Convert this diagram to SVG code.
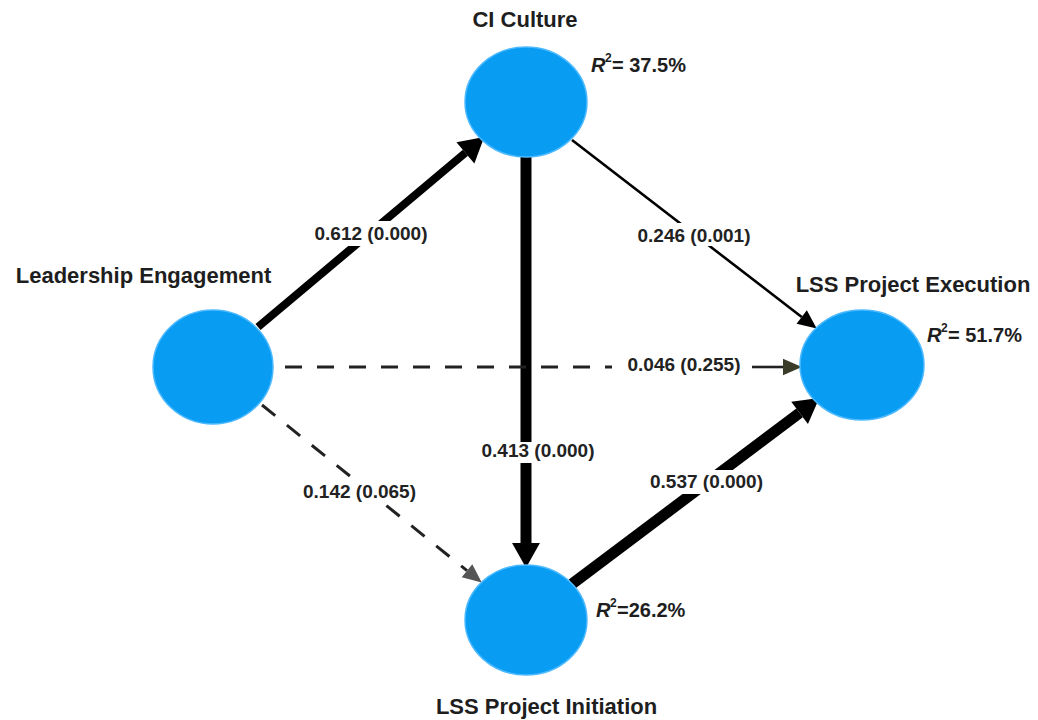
<svg xmlns="http://www.w3.org/2000/svg" width="1038" height="720" viewBox="0 0 1038 720">
  <style>
    .node { fill: #089CF3; stroke: #4DB9FF; stroke-width: 1.5; }
    .title { font-family: "Liberation Sans", Arial, sans-serif; font-weight: bold; font-size: 22px; fill: #1E1E1E; text-anchor: middle; }
    .r2 { font-family: "Liberation Sans", Arial, sans-serif; font-weight: bold; font-size: 20px; fill: #1E1E1E; }
    .r2 .it { font-style: italic; }
    .r2 .sup { font-size: 12px; }
    .coef { font-family: "Liberation Sans", Arial, sans-serif; font-weight: bold; font-size: 19px; fill: #222; text-anchor: middle; }
    .mask { fill: #FFFFFF; }
    .heavy { fill: none; stroke: #000; stroke-width: 11; }
    .medium { fill: none; stroke: #000; stroke-width: 8; }
    .thin { fill: none; stroke: #000; stroke-width: 2.6; }
    .dash { fill: none; stroke: #222; stroke-width: 3; stroke-dasharray: 17 15; }
    .solid-end { fill: none; stroke: #222; stroke-width: 2.6; }
  </style>
  <defs>
    <marker id="head-heavy" markerUnits="userSpaceOnUse" markerWidth="30" markerHeight="30" viewBox="0 -14 24 28" refX="0" refY="0" orient="auto" overflow="visible">
      <path d="M0,-13 L23,0 L0,13 Z" fill="#000"/>
    </marker>
    <marker id="head-thin" markerUnits="userSpaceOnUse" markerWidth="20" markerHeight="20" viewBox="0 -9 19 18" refX="0" refY="0" orient="auto" overflow="visible">
      <path d="M0,-8 L18,0 L0,8 Z" fill="#000"/>
    </marker>
    <marker id="head-olive" markerUnits="userSpaceOnUse" markerWidth="20" markerHeight="20" viewBox="0 -9 18 18" refX="0" refY="0" orient="auto" overflow="visible">
      <path d="M0,-7.5 L17,0 L0,7.5 Z" fill="#3B3B29"/>
    </marker>
    <marker id="head-gray" markerUnits="userSpaceOnUse" markerWidth="20" markerHeight="20" viewBox="0 -9 19 18" refX="0" refY="0" orient="auto" overflow="visible">
      <path d="M0,-8 L18,0 L0,8 Z" fill="#555"/>
    </marker>
  </defs>

  <rect width="1038" height="720" fill="#FFFFFF"/>

  <!-- paths between constructs -->
  <g id="connectors">
    <!-- Leadership Engagement -> CI Culture -->
    <path class="medium" d="M258,327 L465.4,152.8" marker-end="url(#head-heavy)"/>
    <!-- CI Culture -> LSS Project Execution -->
    <path class="thin" d="M572,140 L801.7,317" marker-end="url(#head-thin)"/>
    <!-- CI Culture -> LSS Project Initiation -->
    <path class="heavy" d="M526,157 L526,543" marker-end="url(#head-heavy)"/>
    <!-- Leadership Engagement -> LSS Project Execution (not significant) -->
    <path class="dash" d="M285,367 L612,367"/>
    <path class="solid-end" d="M752,367 L783,367" marker-end="url(#head-olive)"/>
    <!-- Leadership Engagement -> LSS Project Initiation (not significant) -->
    <path class="dash" d="M262,405 L467,570.7" marker-end="url(#head-gray)"/>
    <!-- LSS Project Initiation -> LSS Project Execution -->
    <path class="heavy" d="M572,584 L799.6,412.8" marker-end="url(#head-heavy)"/>

    <!-- path coefficients (p-values) -->
    <rect class="mask" x="305" y="221" width="132" height="25"/>
    <text class="coef" x="371" y="240">0.612 (0.000)</text>
    <rect class="mask" x="629" y="223" width="130" height="23"/>
    <text class="coef" x="694" y="242">0.246 (0.001)</text>
    <text class="coef" x="684" y="371">0.046 (0.255)</text>
    <rect class="mask" x="474" y="442" width="128" height="21"/>
    <text class="coef" x="538" y="457">0.413 (0.000)</text>
    <rect class="mask" x="293" y="479" width="133" height="24"/>
    <text class="coef" x="359.5" y="498">0.142 (0.065)</text>
    <rect class="mask" x="641" y="470" width="131" height="24"/>
    <text class="coef" x="706.5" y="488">0.537 (0.000)</text>
  </g>

  <g id="ci-culture">
    <ellipse class="node" cx="526" cy="102" rx="61" ry="55"/>
    <text class="title" x="525" y="27">CI Culture</text>
    <text class="r2" x="591" y="72"><tspan class="it">R</tspan><tspan class="sup" x="605" y="62">2</tspan><tspan x="612" y="72">= 37.5%</tspan></text>
  </g>

  <g id="leadership-engagement">
    <ellipse class="node" cx="213" cy="367" rx="60" ry="57"/>
    <text class="title" x="143.5" y="283">Leadership Engagement</text>
  </g>

  <g id="lss-project-execution">
    <ellipse class="node" cx="862" cy="365" rx="62" ry="55"/>
    <text class="title" x="913" y="292">LSS Project Execution</text>
    <text class="r2" x="927" y="342"><tspan class="it">R</tspan><tspan class="sup" x="941" y="332">2</tspan><tspan x="948" y="342">= 51.7%</tspan></text>
  </g>

  <g id="lss-project-initiation">
    <ellipse class="node" cx="526" cy="620" rx="61" ry="55"/>
    <text class="title" x="546.5" y="714">LSS Project Initiation</text>
    <text class="r2" x="596" y="617"><tspan class="it">R</tspan><tspan class="sup" x="610" y="607">2</tspan><tspan x="617" y="617">=26.2%</tspan></text>
  </g>
</svg>
